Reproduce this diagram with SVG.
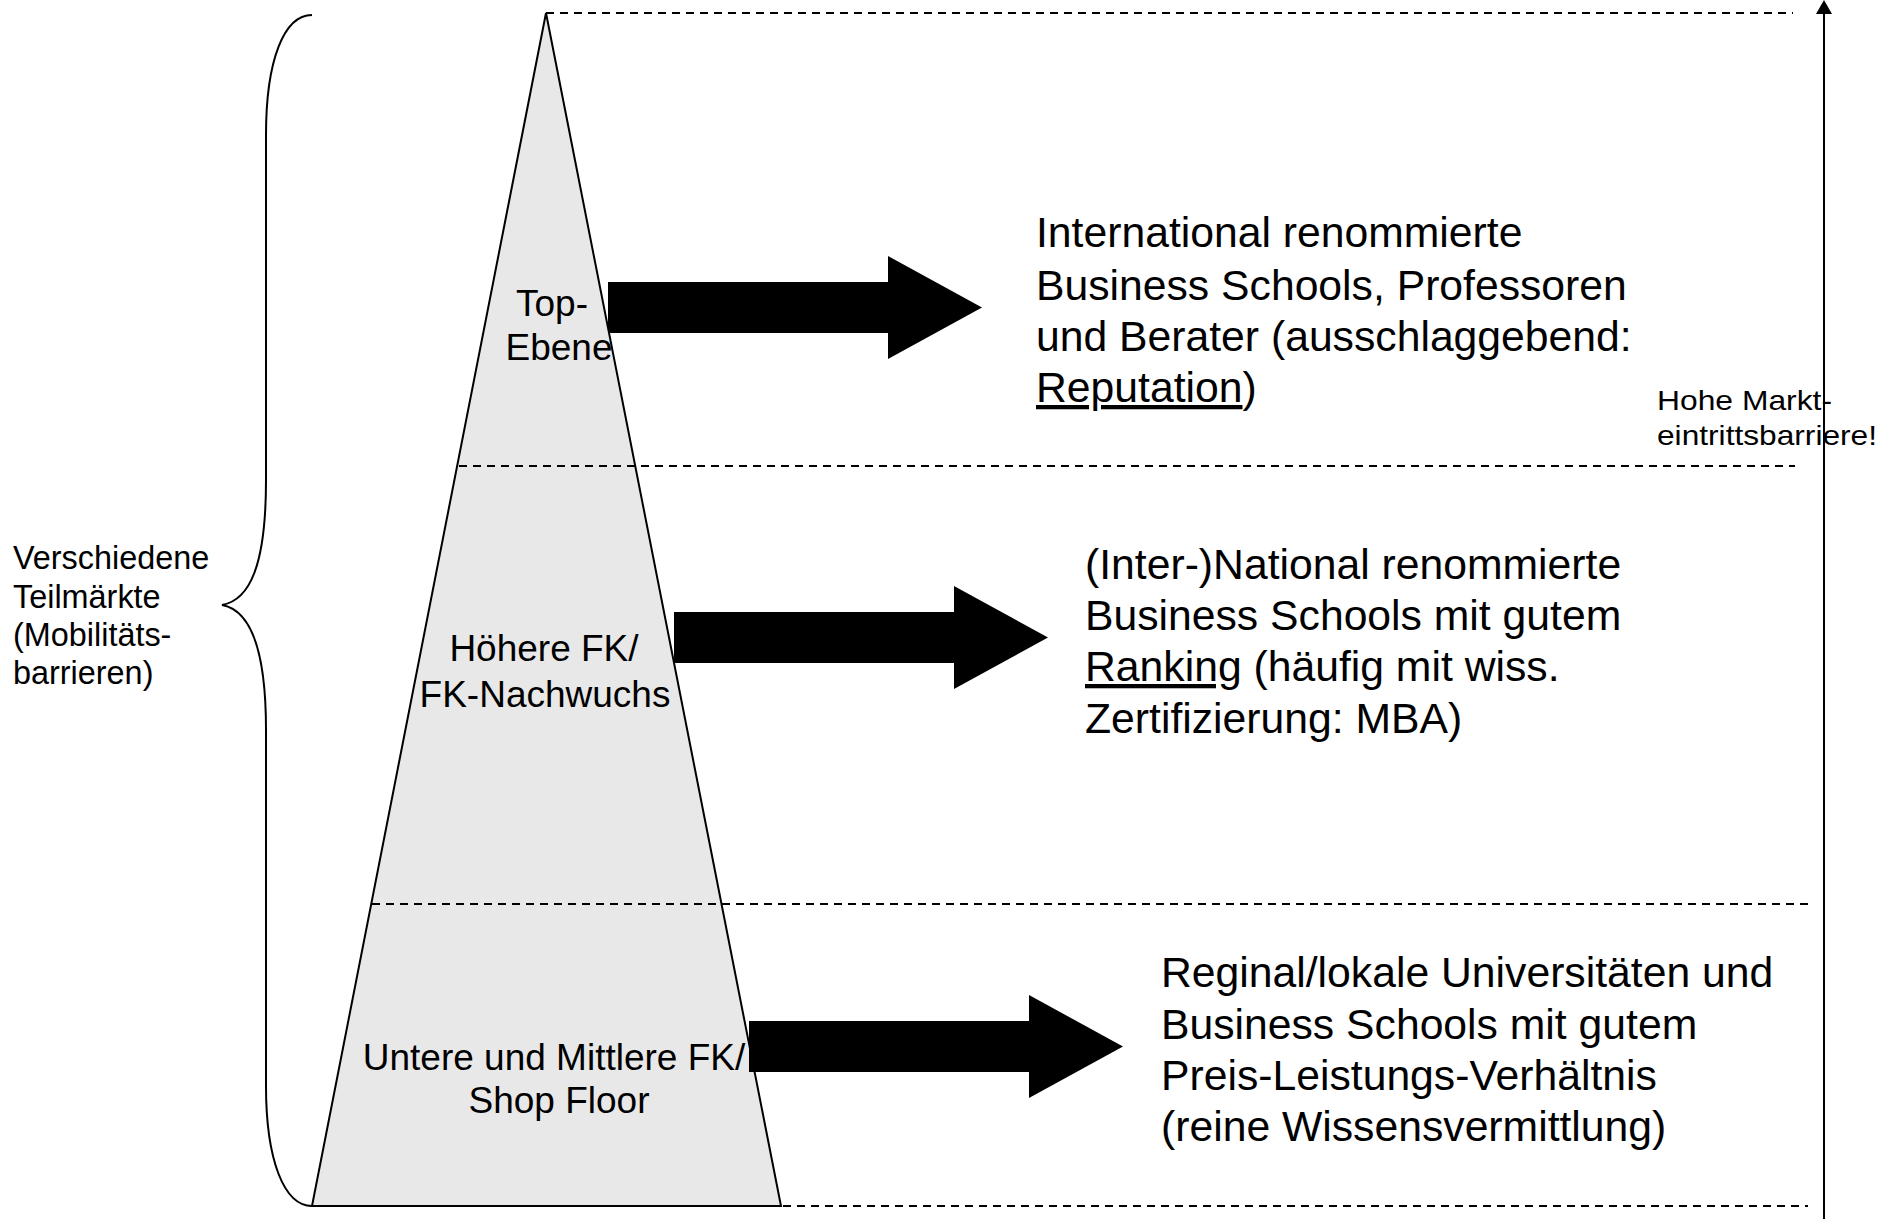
<svg xmlns="http://www.w3.org/2000/svg" xmlns:xlink="http://www.w3.org/1999/xlink" width="1898" height="1219" viewBox="0 0 1898 1219">
<style>
text { font-family: "Liberation Sans", Arial, sans-serif; fill: #000; }
.big { font-size: 42.7px; }
.lvl { font-size: 37px; text-anchor: middle; }
.side { font-size: 32.4px; }
.note { font-size: 28px; }
.dash { stroke: #000; stroke-width: 2; stroke-dasharray: 8 6; fill: none; }
.ul { text-decoration: underline; }
</style>
<defs>
<path id="blockArrow" d="M0,0 H280 V-26 L374,25.5 L280,77 V51 H0 Z" fill="#000"/>
</defs>
<rect width="1898" height="1219" fill="#fff"/>

<g id="brace">
<path d="M312,15 C284,15 266,60 266,135 L266,480 C266,565 250,600 222,605 C250,610 266,650 266,730 L266,1086 C266,1160 284,1206 312,1206" fill="none" stroke="#000" stroke-width="2"/>
</g>

<g id="teilmaerkte">
<text class="side" x="13" y="569">Verschiedene</text>
<text class="side" x="13" y="608">Teilmärkte</text>
<text class="side" x="13" y="646">(Mobilitäts-</text>
<text class="side" x="13" y="684">barrieren)</text>
</g>

<g id="pyramid">
<polygon points="546,13 781,1206 312,1206" fill="#e8e8e8" stroke="#000" stroke-width="2" stroke-linejoin="miter"/>
</g>

<g id="levels">
<line class="dash" x1="546" y1="13" x2="1793" y2="13"/>
<line class="dash" x1="459" y1="466" x2="1795" y2="466"/>
<line class="dash" x1="372" y1="904" x2="1808" y2="904"/>
<line class="dash" x1="783" y1="1206" x2="1808" y2="1206"/>
</g>

<g id="level-top">
<text class="lvl" x="552" y="316">Top-</text>
<text class="lvl" x="559" y="360">Ebene</text>
</g>
<g id="level-middle">
<text class="lvl" x="544" y="661">Höhere FK/</text>
<text class="lvl" x="545" y="707">FK-Nachwuchs</text>
</g>
<g id="level-bottom">
<text class="lvl" x="554" y="1070">Untere und Mittlere FK/</text>
<text class="lvl" x="559" y="1113">Shop Floor</text>
</g>

<g id="target-top">
<text class="big" x="1036" y="247">International renommierte</text>
<text class="big" x="1036" y="300">Business Schools, Professoren</text>
<text class="big" x="1036" y="351">und Berater (ausschlaggebend:</text>
<text class="big" x="1036" y="402"><tspan class="ul">Reputation</tspan>)</text>
</g>

<g id="target-middle">
<text class="big" x="1085" y="579">(Inter-)National renommierte</text>
<text class="big" x="1085" y="630">Business Schools mit gutem</text>
<text class="big" x="1085" y="681"><tspan class="ul">Ranking</tspan> (häufig mit wiss.</text>
<text class="big" x="1085" y="733">Zertifizierung: MBA)</text>
</g>

<g id="target-bottom">
<text class="big" x="1161" y="987">Reginal/lokale Universitäten und</text>
<text class="big" x="1161" y="1039">Business Schools mit gutem</text>
<text class="big" x="1161" y="1090">Preis-Leistungs-Verhältnis</text>
<text class="big" x="1161" y="1141">(reine Wissensvermittlung)</text>
</g>

<g id="barrier-note">
<text class="note" x="1657" y="410" textLength="175" lengthAdjust="spacingAndGlyphs">Hohe Markt-</text>
<text class="note" x="1657" y="445" textLength="220" lengthAdjust="spacingAndGlyphs">eintrittsbarriere!</text>
</g>

<g id="connectors">
<use xlink:href="#blockArrow" href="#blockArrow" transform="translate(608,282)"/>
<use xlink:href="#blockArrow" href="#blockArrow" transform="translate(674,612)"/>
<use xlink:href="#blockArrow" href="#blockArrow" transform="translate(749,1021)"/>
<line x1="1824" y1="1219" x2="1824" y2="12" stroke="#000" stroke-width="2"/>
<path d="M1824,0 L1832,14 L1816,14 Z" fill="#000"/>
</g>
</svg>
